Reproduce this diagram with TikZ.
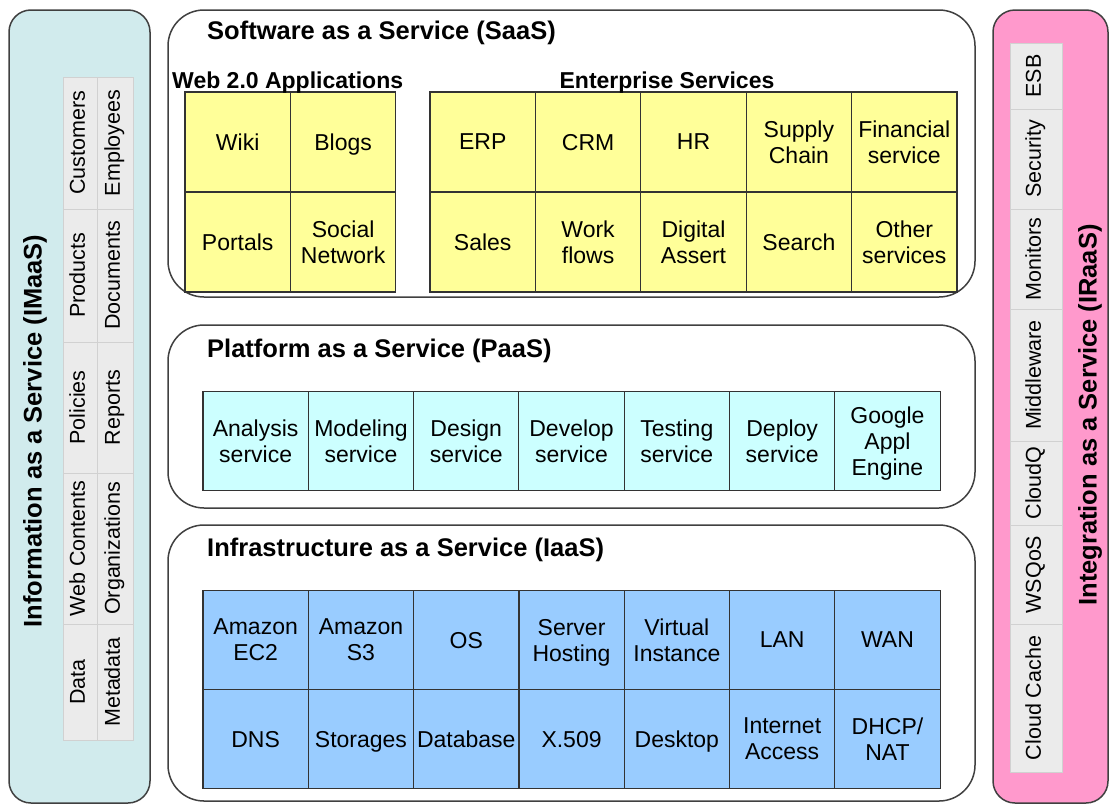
\documentclass[tikz,border=0pt]{standalone}
\usepackage{fontspec}
\setmainfont{Liberation Sans}
\definecolor{imaasbg}{HTML}{D1EBED}
\definecolor{iraasbg}{HTML}{FF99CC}
\definecolor{saasyellow}{HTML}{FFFF99}
\definecolor{paascyan}{HTML}{CCFFFF}
\definecolor{iaasblue}{HTML}{99CCFF}
\definecolor{sidegray}{HTML}{EBEBEB}
\tikzset{
  panel/.style={draw=black!75, line width=1.5pt, rounded corners=36pt, fill=white},
  sidepanel/.style={draw=black!75, line width=1.5pt, rounded corners=22pt},
  cell/.style={draw=black!80, line width=1.2pt, minimum width=105.4pt, minimum height=100pt,
    inner sep=0pt, align=center, text depth=0pt, font=\fontsize{23}{26}\selectfont},
  sidecell/.style={draw=black!18, line width=0.8pt, fill=sidegray, rotate=90, inner sep=0pt,
    align=center, font=\fontsize{21.5}{24}\selectfont, execute at begin node=\strut},
  layertitle/.style={anchor=west, inner sep=0pt, font=\fontsize{25.5}{28}\selectfont\bfseries,
    execute at begin node=\strut},
  grouptitle/.style={inner sep=0pt, font=\fontsize{23}{26}\selectfont\bfseries, execute at begin node=\strut},
  sidetitle/.style={rotate=90, inner sep=0pt, font=\fontsize{25.5}{28}\selectfont\bfseries,
    execute at begin node=\strut}
}
\begin{document}
\begin{tikzpicture}[x=1pt,y=-1pt]
  \useasboundingbox (0,0) rectangle (1110,806);
  % side panels
  \draw[sidepanel, fill=imaasbg] (9,10) rectangle (150,803);
  \draw[sidepanel, fill=iraasbg] (993,10) rectangle (1108,803);
  \node[sidetitle] (imaas) at (36,431) {Information as a Service (IMaaS)};
  \node[sidetitle] (iraas) at (1091,415) {Integration as a Service (IRaaS)};
  % IMaaS grid
  \foreach \ya/\yb/\ta/\tb [count=\i] in {77/209/Customers/Employees,209/342/Products/Documents,
      342/473/Policies/Reports,473/624/Web Contents/Organizations,624/740/Data/Metadata}{
    \node[sidecell, minimum width={(\yb-\ya)*1pt}, minimum height=34pt] (info\i a) at (80,{(\ya+\yb)/2}) {\ta};
    \node[sidecell, minimum width={(\yb-\ya)*1pt}, minimum height=36pt] (info\i b) at (115,{(\ya+\yb)/2}) {\tb};
  }
  % IRaaS grid
  \foreach \ya/\yb/\t [count=\i] in {43/109/ESB,109/209/Security,209/309/Monitors,309/441/Middleware,
      441/525/CloudQ,525/624/WSQoS,624/772/Cloud Cache}{
    \node[sidecell, minimum width={(\yb-\ya)*1pt}, minimum height=52pt] (integ\i) at (1036,{(\ya+\yb)/2}) {\t};
  }
  % layer panels
  \draw[panel] (168,10) rectangle (975,297);
  \draw[panel] (168,325) rectangle (975,508);
  \draw[panel] (168,525) rectangle (975,801);
  \node[layertitle] (saas) at (207,34) {Software as a Service (SaaS)};
  \node[layertitle] (paas) at (207,352) {Platform as a Service (PaaS)};
  \node[layertitle] (iaas) at (207,551) {Infrastructure as a Service (IaaS)};
  % SaaS: Web 2.0 and enterprise cells
  \foreach \t [count=\i] in {Wiki,Blogs}
    \node[cell, fill=saasyellow] (weba\i) at ({185+52.7+(\i-1)*105.4},142) {\t};
  \foreach \t [count=\i] in {Portals,{Social\\Network}}
    \node[cell, fill=saasyellow] (webb\i) at ({185+52.7+(\i-1)*105.4},242) {\t};
  \foreach \t [count=\i] in {ERP,CRM,HR,{Supply\\Chain},{Financial\\service}}
    \node[cell, fill=saasyellow] (enta\i) at ({430+52.7+(\i-1)*105.4},142) {\t};
  \foreach \t [count=\i] in {Sales,{Work\\flows},{Digital\\Assert},Search,{Other\\services}}
    \node[cell, fill=saasyellow] (entb\i) at ({430+52.7+(\i-1)*105.4},242) {\t};
  \node[grouptitle, anchor=west] (web) at (172,83) {Web 2.0 Applications};
  \node[grouptitle] (ent) at (667,83) {Enterprise Services};
  % PaaS cells
  \foreach \t [count=\i] in {{Analysis\\service},{Modeling\\service},{Design\\service},{Develop\\service},
      {Testing\\service},{Deploy\\service},{Google\\Appl\\Engine}}
    \node[cell, fill=paascyan, minimum height=99pt] (plat\i) at ({203+52.65+(\i-1)*105.3},441) {\t};
  % IaaS cells
  \foreach \t [count=\i] in {{Amazon\\EC2},{Amazon\\S3},OS,{Server\\Hosting},{Virtual\\Instance},LAN,WAN}
    \node[cell, fill=iaasblue, minimum width=105.3pt, minimum height=99pt] (infa\i) at ({203+52.65+(\i-1)*105.3},640) {\t};
  \foreach \t [count=\i] in {DNS,Storages,Database,X.509,Desktop,{Internet\\Access},{DHCP/\\NAT}}
    \node[cell, fill=iaasblue, minimum width=105.3pt, minimum height=99pt] (infb\i) at ({203+52.65+(\i-1)*105.3},739) {\t};
\end{tikzpicture}
\end{document}
